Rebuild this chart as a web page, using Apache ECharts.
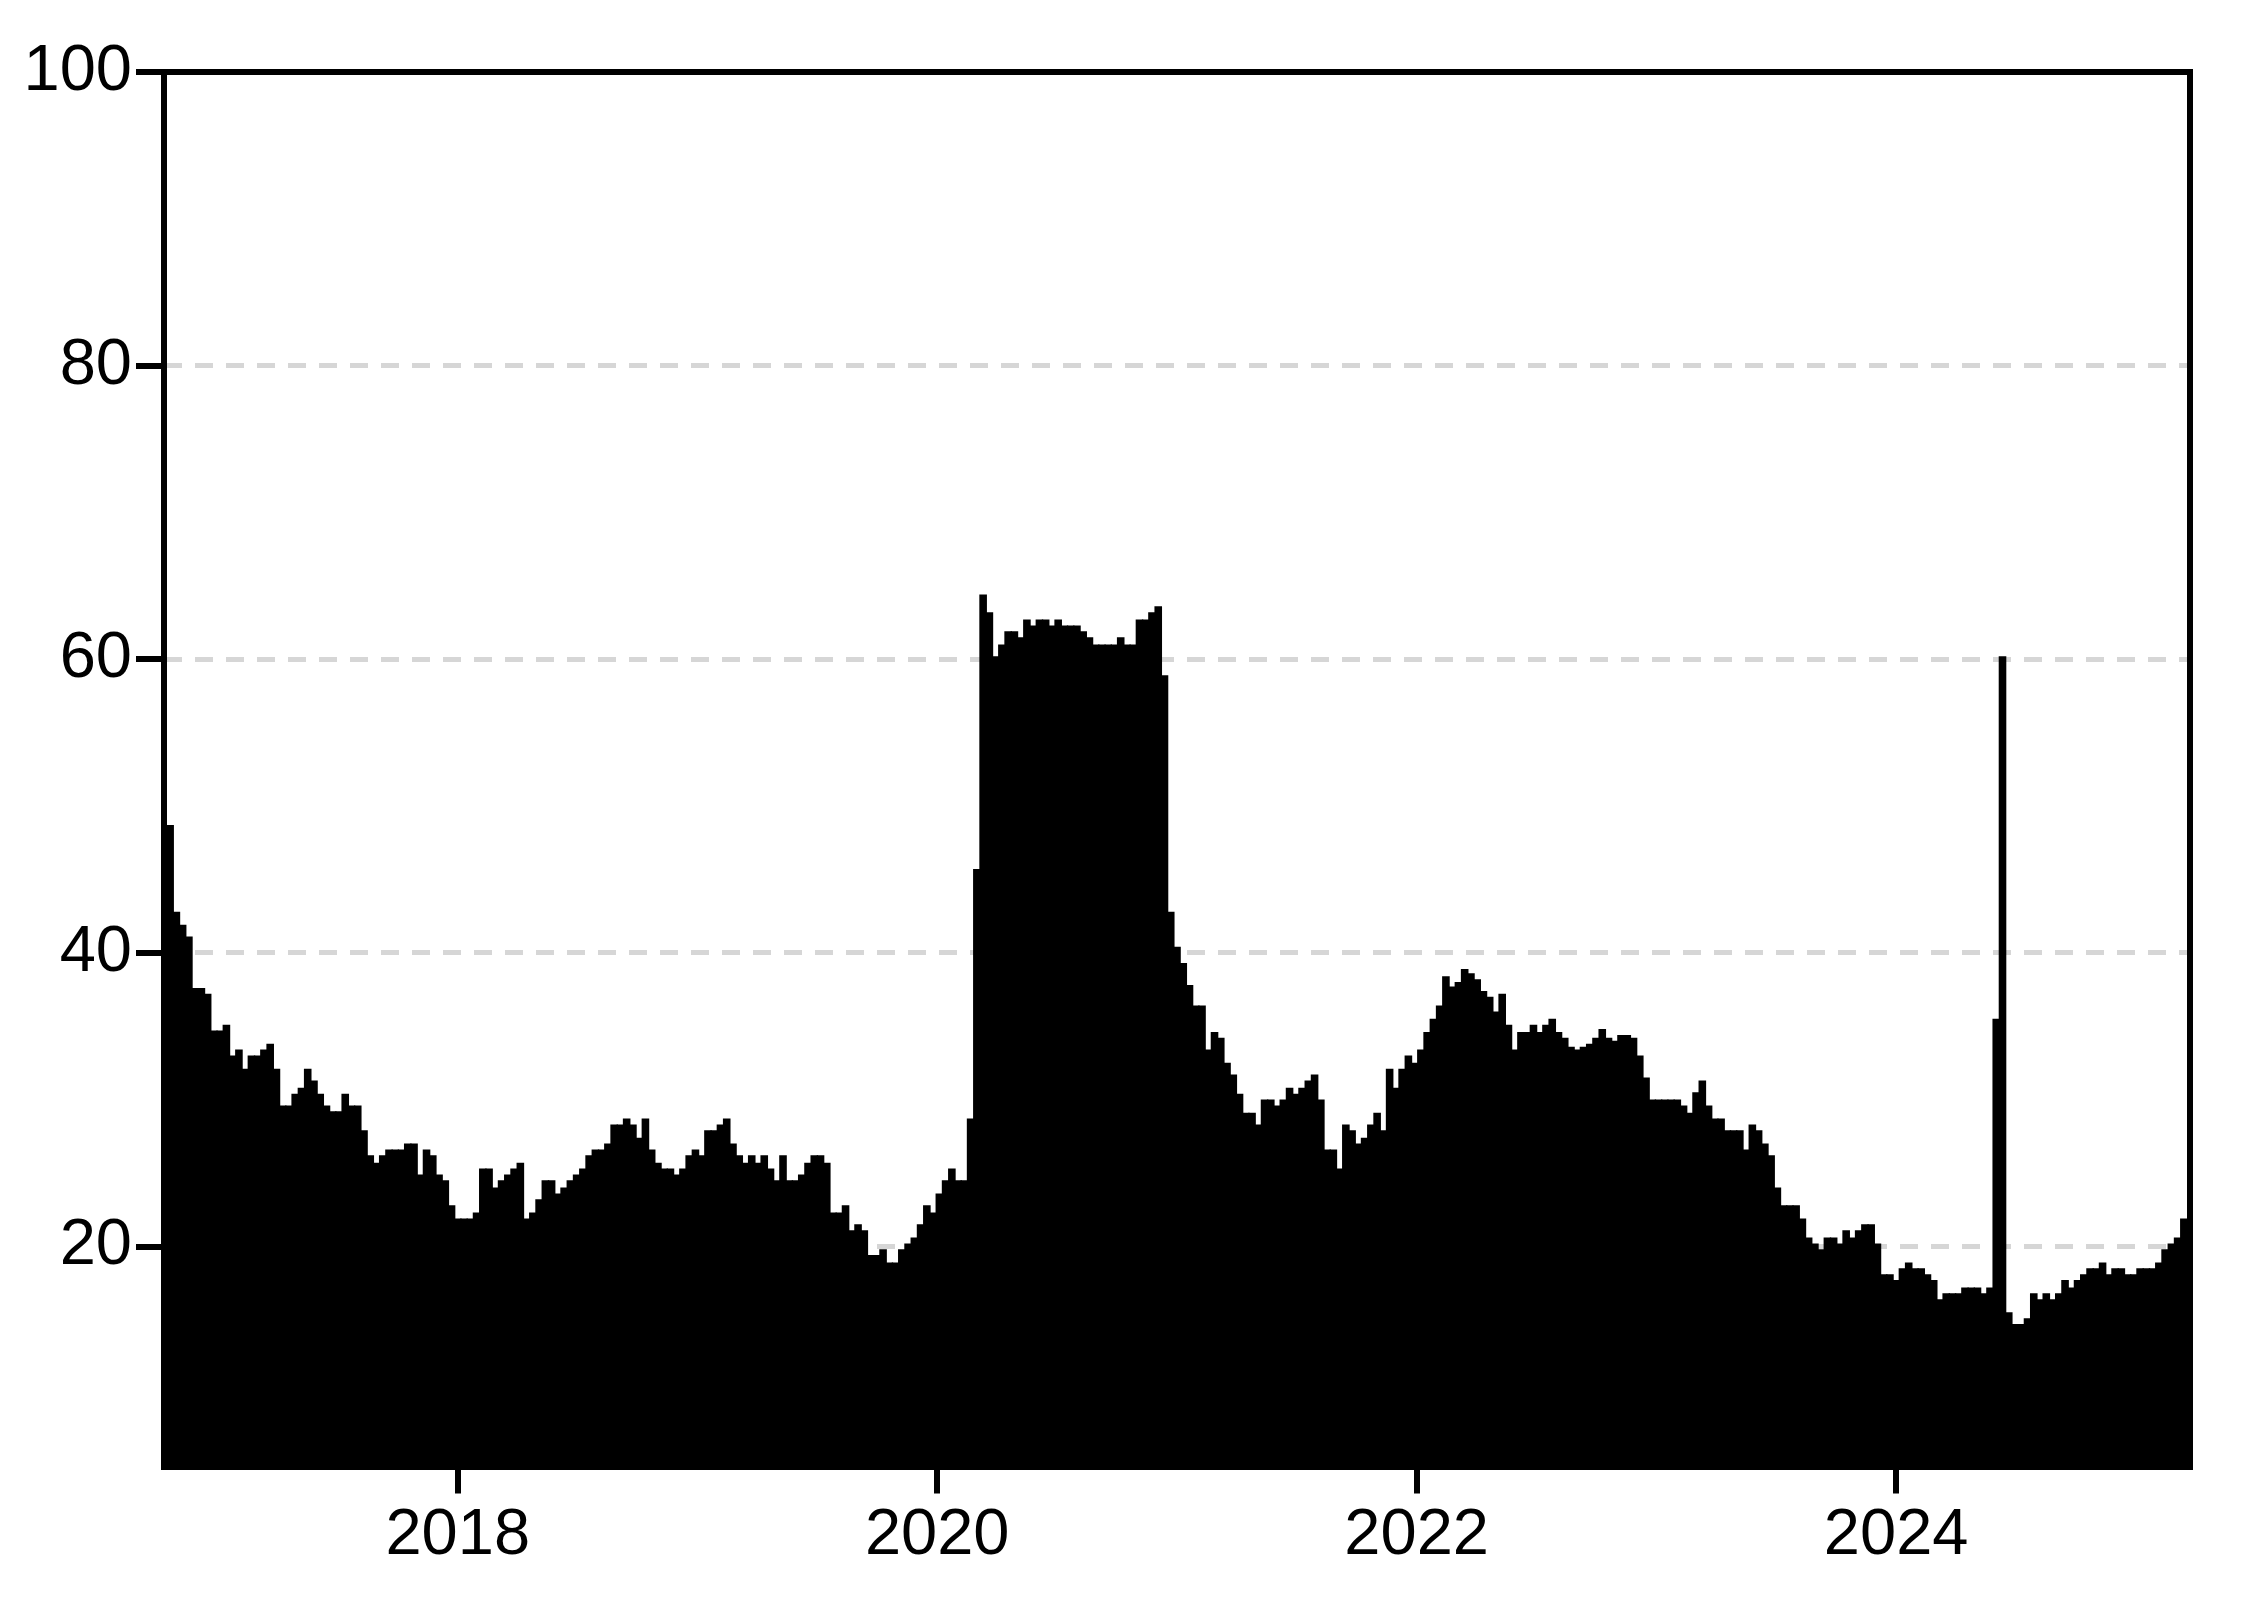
<!DOCTYPE html>
<html>
<head>
<meta charset="utf-8">
<script src="https://cdn.jsdelivr.net/npm/echarts@6/dist/echarts.min.js"></script>
<style>
html,body{margin:0;padding:0;background:#ffffff;}
#chart{width:2241px;height:1606px;}
</style>
</head>
<body>
<div id="chart"></div>
<script>
// Values per period (about 9.5 days each)
const values = [
  48.7, 42.8, 41.9, 41.1, 37.6, 37.6, 37.2, 34.7, 34.7, 35.1,
  33.0, 33.4, 32.1, 33.0, 33.0, 33.4, 33.8, 32.1, 29.6, 29.6,
  30.4, 30.8, 32.1, 31.3, 30.4, 29.6, 29.2, 29.2, 30.4, 29.6,
  29.6, 27.9, 26.2, 25.7, 26.2, 26.6, 26.6, 26.6, 27.0, 27.0,
  24.9, 26.6, 26.2, 24.9, 24.5, 22.8, 21.9, 21.9, 21.9, 22.3,
  25.3, 25.3, 24.0, 24.5, 24.9, 25.3, 25.7, 21.9, 22.3, 23.2,
  24.5, 24.5, 23.6, 24.0, 24.5, 24.9, 25.3, 26.2, 26.6, 26.6,
  27.0, 28.3, 28.3, 28.7, 28.3, 27.4, 28.7, 26.6, 25.7, 25.3,
  25.3, 24.9, 25.3, 26.2, 26.6, 26.2, 27.9, 27.9, 28.3, 28.7,
  27.0, 26.2, 25.7, 26.2, 25.7, 26.2, 25.3, 24.5, 26.2, 24.5,
  24.5, 24.9, 25.7, 26.2, 26.2, 25.7, 22.3, 22.3, 22.8, 21.1,
  21.5, 21.1, 19.4, 19.4, 19.8, 18.9, 18.9, 19.8, 20.2, 20.6,
  21.5, 22.8, 22.3, 23.6, 24.5, 25.3, 24.5, 24.5, 28.7, 45.7,
  64.4, 63.2, 60.2, 61.0, 61.9, 61.9, 61.5, 62.7, 62.3, 62.7,
  62.7, 62.3, 62.7, 62.3, 62.3, 62.3, 61.9, 61.5, 61.0, 61.0,
  61.0, 61.0, 61.5, 61.0, 61.0, 62.7, 62.7, 63.2, 63.6, 58.9,
  42.8, 40.4, 39.3, 37.8, 36.4, 36.4, 33.4, 34.6, 34.2, 32.5,
  31.7, 30.4, 29.1, 29.1, 28.3, 30.0, 30.0, 29.6, 30.0, 30.8,
  30.4, 30.8, 31.3, 31.7, 30.0, 26.6, 26.6, 25.3, 28.3, 27.9,
  27.0, 27.4, 28.3, 29.1, 27.9, 32.1, 30.8, 32.1, 33.0, 32.5,
  33.4, 34.6, 35.5, 36.4, 38.4, 37.7, 38.0, 38.9, 38.6, 38.2,
  37.4, 37.0, 36.0, 37.2, 35.1, 33.4, 34.6, 34.6, 35.1, 34.6,
  35.1, 35.5, 34.6, 34.2, 33.6, 33.4, 33.6, 33.8, 34.2, 34.8,
  34.2, 34.0, 34.4, 34.4, 34.2, 33.0, 31.5, 30.0, 30.0, 30.0,
  30.0, 30.0, 29.6, 29.1, 30.5, 31.3, 29.6, 28.7, 28.7, 27.9,
  27.9, 27.9, 26.6, 28.3, 27.9, 27.0, 26.2, 24.0, 22.8, 22.8,
  22.8, 21.9, 20.6, 20.2, 19.8, 20.6, 20.6, 20.2, 21.1, 20.6,
  21.1, 21.5, 21.5, 20.2, 18.1, 18.1, 17.7, 18.5, 18.9, 18.5,
  18.5, 18.1, 17.7, 16.4, 16.8, 16.8, 16.8, 17.2, 17.2, 17.2,
  16.8, 17.2, 35.5, 60.2, 15.5, 14.7, 14.7, 15.1, 16.8, 16.4,
  16.8, 16.4, 16.8, 17.7, 17.2, 17.7, 18.1, 18.5, 18.5, 18.9,
  18.1, 18.5, 18.5, 18.1, 18.1, 18.5, 18.5, 18.5, 18.9, 19.8,
  20.2, 20.6, 21.9
];
const yearTicks = [2018, 2020, 2022, 2024];
const valueTicks = [20, 40, 60, 80, 100];

// Period timeline in decimal years (regular periods of ~9.5 days)
const firstPeriodStart = 2016.7872;
const periodLength = 0.026087;
const periods = values.map((_, i) => firstPeriodStart + (i + 0.5) * periodLength);
const seriesData = values.map((v, i) => [periods[i], v]);
const xMin = firstPeriodStart - 0.48 * periodLength;
const xMax = firstPeriodStart + (values.length + 0.48) * periodLength;

const FONT = "'Liberation Sans', Arial, sans-serif";
const frameLine = { color: '#000000', width: 6, cap: 'square' };

const chart = echarts.init(document.getElementById('chart'), null, { renderer: 'canvas' });
chart.setOption({
  animation: false,
  backgroundColor: '#ffffff',
  grid: { left: 164, right: 51, top: 72, bottom: 139.5, containLabel: false },
  xAxis: [
    {
      type: 'value', min: xMin, max: xMax, position: 'bottom',
      axisLine: { show: true, onZero: false, lineStyle: frameLine },
      axisTick: { show: true, customValues: yearTicks, length: 27, lineStyle: { color: '#000000', width: 6 } },
      axisLabel: {
        show: true, customValues: yearTicks, fontSize: 65, color: '#000000', fontFamily: FONT, margin: 37,
        formatter: v => String(Math.round(v))
      },
      splitLine: { show: false }
    },
    {
      type: 'value', min: 0, max: 1, position: 'top', z: 5,
      axisLine: { show: true, onZero: false, lineStyle: frameLine },
      axisTick: { show: false }, axisLabel: { show: false }, splitLine: { show: false }
    }
  ],
  yAxis: [
    {
      type: 'value', min: 5, max: 100, position: 'left',
      axisLine: { show: true, onZero: false, lineStyle: frameLine },
      axisTick: { show: true, customValues: valueTicks, length: 28, lineStyle: { color: '#000000', width: 6 } },
      axisLabel: { show: true, customValues: valueTicks, fontSize: 65, color: '#000000', fontFamily: FONT, margin: 32 },
      splitLine: { show: true, lineStyle: { color: '#d6d6d6', width: 5, type: [18, 13] } }
    },
    {
      type: 'value', min: 0, max: 1, position: 'right', z: 5,
      axisLine: { show: true, onZero: false, lineStyle: frameLine },
      axisTick: { show: false }, axisLabel: { show: false }, splitLine: { show: false }
    }
  ],
  series: [
    {
      type: 'bar', xAxisIndex: 0, yAxisIndex: 0,
      data: seriesData,
      barWidth: 7.6,
      itemStyle: { color: '#000000', borderWidth: 0 },
      emphasis: { disabled: true },
      z: 2
    }
  ]
});
</script>
</body>
</html>
